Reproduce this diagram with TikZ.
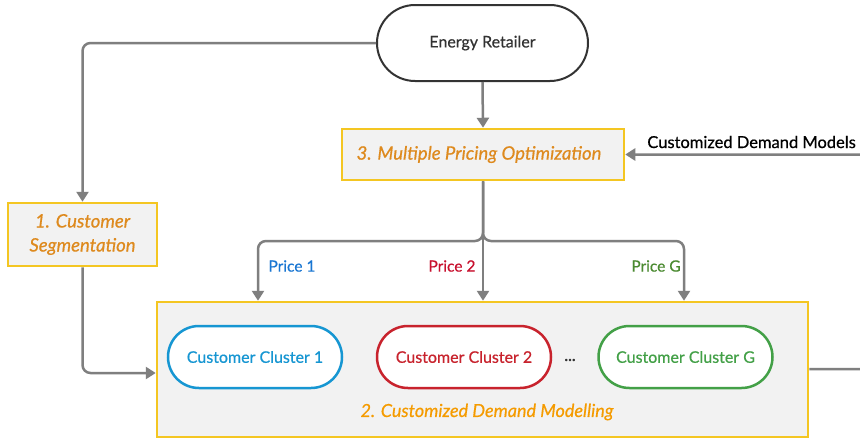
\documentclass[tikz,border=0pt]{standalone}
\usepackage{fontspec}
\setmainfont{Lato}[FakeBold=0]
\newfontfamily\medfont{Lato}[FakeBold=0.6,ItalicFeatures={FakeBold=0.6}]
\newfontfamily\dotfont{Lato}[FakeBold=2]
\usetikzlibrary{arrows.meta}
\definecolor{boxfill}{HTML}{F2F2F2}
\definecolor{boxedge}{HTML}{F4C622}
\definecolor{titleor}{HTML}{DE8A1E}
\definecolor{labelor}{HTML}{F59B00}
\definecolor{conngray}{HTML}{7F7F7F}
\definecolor{darktext}{HTML}{333333}
\definecolor{cblue}{HTML}{1696D2}
\definecolor{cred}{HTML}{C8232D}
\definecolor{cgreen}{HTML}{43A047}
\definecolor{pblue}{HTML}{1976D2}
\definecolor{pred}{HTML}{C8102E}
\definecolor{pgreen}{HTML}{4A8A30}
\tikzset{
  stagebox/.style={draw=boxedge, line width=2.5pt, fill=boxfill, inner sep=0pt,
    font=\medfont\fontsize{18.5}{24}\selectfont\itshape, text=titleor, align=center},
  pill/.style={draw=#1, line width=2.5pt, fill=white, inner sep=0pt,
    minimum width=174pt, minimum height=62pt, rounded corners=31pt,
    text=#1, font=\medfont\fontsize{16}{19}\selectfont},
  conn/.style={draw=conngray, line width=2.5pt, rounded corners=8pt,
    -{Triangle[length=10pt,width=12pt]}},
  pricelabel/.style={font=\medfont\fontsize{15.5}{18}\selectfont, inner sep=0pt}
}
\begin{document}
\begin{tikzpicture}[x=1pt,y=-1pt]
\clip (0,0) rectangle (860,439);
\fill[white] (0,0) rectangle (860,439);

\node[draw=darktext, line width=2pt, fill=white, inner sep=0pt,
  minimum width=211pt, minimum height=76pt, rounded corners=38pt,
  text=darktext, font=\medfont\fontsize{16}{19}\selectfont] (retailer) at (482.5,43) {\raisebox{-2pt}{Energy Retailer}};

\node[stagebox, minimum width=282pt, minimum height=51pt] (pricing) at (483,154.5)
  {\hspace*{-8pt}3. Multiple Pricing Optimization};

\node[stagebox, minimum width=149pt, minimum height=63pt] (seg) at (82.5,234.5)
  {1. Customer\\Segmentation};

\node[draw=boxedge, line width=2.5pt, fill=boxfill, minimum width=651pt,
  minimum height=135pt, inner sep=0pt] (big) at (482.5,369.5) {};

\node[pill=cblue] (c1) at (255,357) {\raisebox{-1.5pt}{Customer Cluster 1}};
\node[pill=cred] (c2) at (464,357) {\raisebox{-1.5pt}{Customer Cluster 2}};
\node[pill=cgreen] (cg) at (685.5,357) {\raisebox{-1.5pt}{Customer Cluster G}};
\node[font=\dotfont\fontsize{16}{19}\selectfont, text=darktext, inner sep=0pt] (dots) at (570,360) {...};
\node[font=\medfont\fontsize{18}{22}\selectfont\itshape, text=labelor, inner sep=0pt] (biglabel)
  at (487,412) {2. Customized Demand Modelling};

% connectors
\draw[conn] (retailer.south) -- (pricing.north);
\draw[conn] (retailer.west) -| (seg.north);
\draw[conn] (seg.south) |- (big.west |- 0,373);

\coordinate (split) at (483,241);
\coordinate (p1x) at (258,0);
\coordinate (pgx) at (684,0);
\draw[conn] (pricing.south) -- (split) -| (p1x |- big.north);
\draw[conn] (pricing.south) -- (pricing.south |- big.north);
\draw[conn] (pricing.south) -- (split) -| (pgx |- big.north);

\node[pricelabel, text=pblue] (pr1) at (292,266) {Price 1};
\node[pricelabel, text=pred] (pr2) at (452,266) {Price 2};
\node[pricelabel, text=pgreen] (prg) at (656,266) {Price G};

\coordinate (farright) at (880,0);
\draw[conn] (big.east |- 0,369) -| (farright |- 0,260) |- (pricing.east);
\node[font=\medfont\fontsize{16.5}{19}\selectfont, text=black, inner sep=0pt, anchor=east] (cdm)
  at (856,142) {Customized Demand Models};
\end{tikzpicture}
\end{document}
